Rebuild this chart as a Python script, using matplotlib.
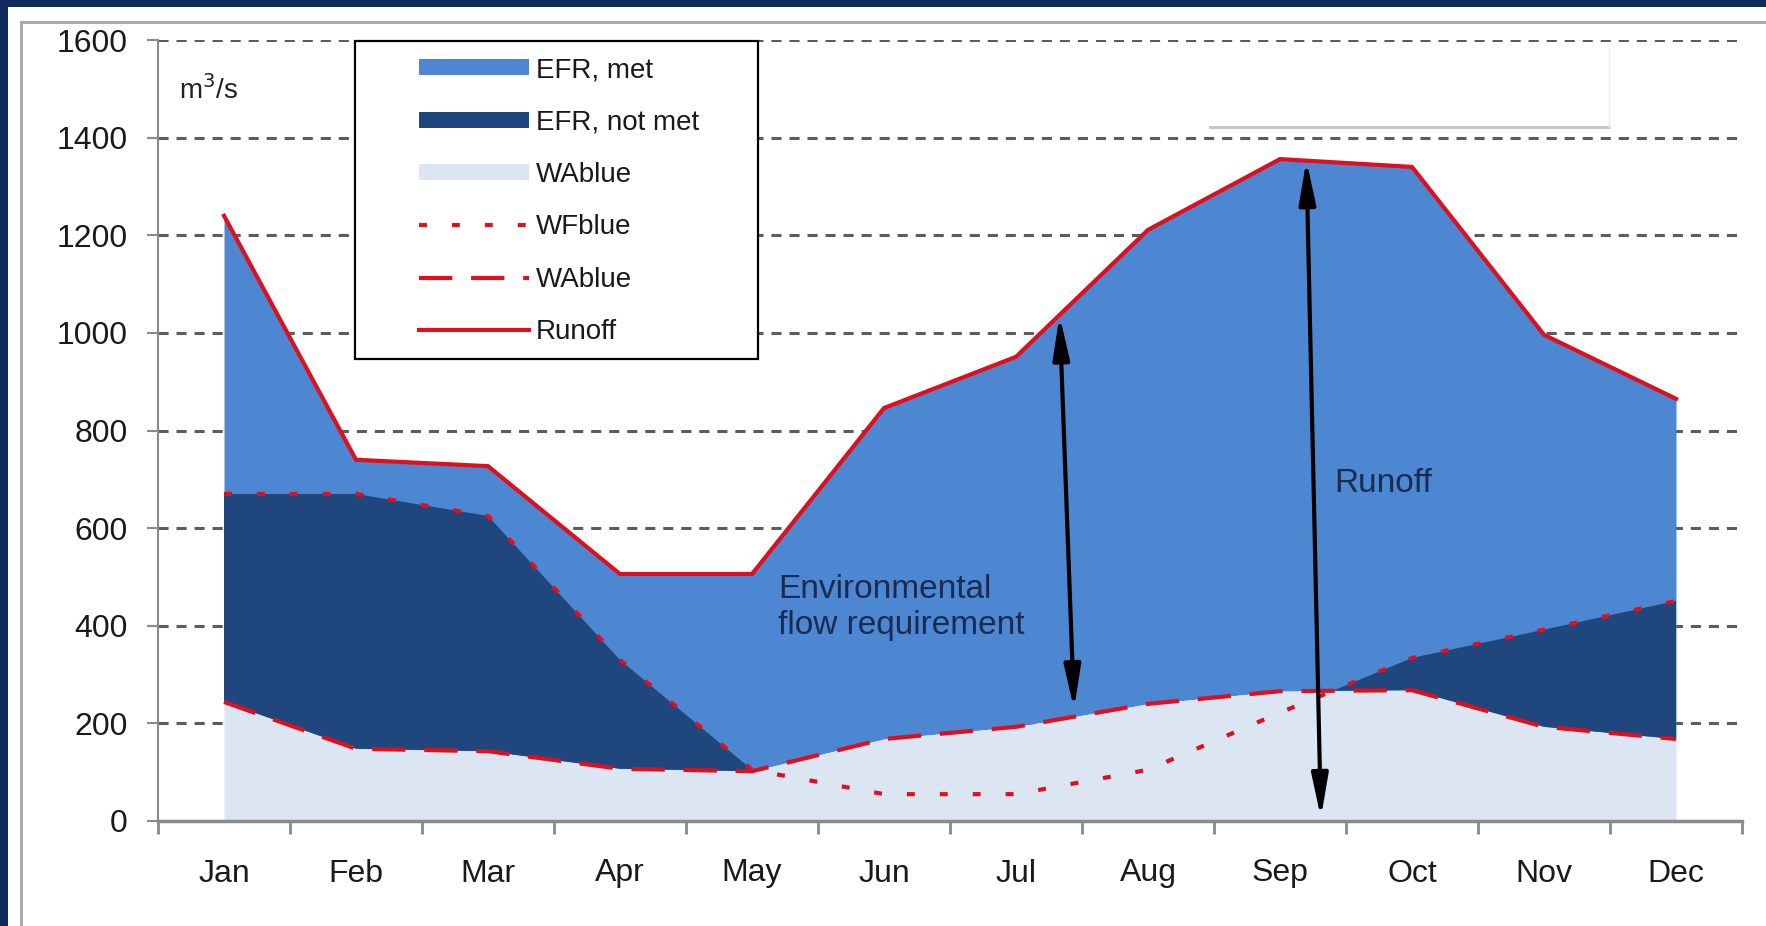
import numpy as np
import matplotlib
matplotlib.use("Agg")
import matplotlib.pyplot as plt
from matplotlib.patches import Patch, Rectangle
from matplotlib.lines import Line2D

plt.rcParams['font.family'] = ['Liberation Sans', 'DejaVu Sans']

# monthly flows, m3/s
months = ['Jan', 'Feb', 'Mar', 'Apr', 'May', 'Jun',
          'Jul', 'Aug', 'Sep', 'Oct', 'Nov', 'Dec']
runoff = [1240, 740, 727, 506, 506, 846, 951, 1211, 1356, 1340, 996, 865]
wa_blue = [244, 148, 143, 107, 102, 168, 193, 240, 266, 268, 193, 168]
wf_blue = [670, 670, 625, 330, 105, 55, 55, 105, 222, 334, 392, 451]

yticks = [0, 200, 400, 600, 800, 1000, 1200, 1400, 1600]

# arrows (month index, value)
efr_arrow = [(6.33, 1036), (6.44, 229)]
runoff_arrow = [(8.20, 1354), (8.31, 6)]

C_MET = '#4d87d1'
C_NOTMET = '#1f477e'
C_WA = '#dce6f2'
C_RED = '#dd1020'
C_NAVY = '#0f2b5c'
C_TEXT = '#1a2b52'

W, H = 1766, 926
fig = plt.figure(figsize=(W / 100, H / 100), dpi=100)
fig.patch.set_facecolor('white')

# axes placed in pixel terms of the reference
x0, x1, y0, y1 = 158, 1742, 821, 40
ax = fig.add_axes([x0 / W, 1 - y0 / H, (x1 - x0) / W, (y0 - y1) / H])

x = np.arange(len(months))
ra = np.array(runoff, dtype=float)
wa = np.array(wa_blue, dtype=float)
wf = np.array(wf_blue, dtype=float)

# EFR met underneath, then EFR not met, then WAblue on top
ax.fill_between(x, wa, ra, color=C_MET, lw=0, zorder=1.9)
ax.fill_between(x, wa, wf, where=wf >= wa, interpolate=True,
                color=C_NOTMET, lw=0, zorder=2.0)
ax.fill_between(x, 0, wa, color=C_WA, lw=0, zorder=2.1)

ax.plot(x, wa, color=C_RED, lw=3, dashes=(8, 4.5), zorder=4)
ax.plot(x, wf, color=C_RED, lw=3, dashes=(1.9, 6), zorder=4)
ax.plot(x, ra, color=C_RED, lw=3, solid_joinstyle='miter', zorder=4)

for arr in (efr_arrow, runoff_arrow):
    ax.annotate('', xy=arr[1], xytext=arr[0],
                arrowprops=dict(arrowstyle='<|-|>,head_length=1.3,head_width=0.25',
                                color='black', lw=3, shrinkA=0, shrinkB=0,
                                mutation_scale=20),
                zorder=6)

ax.text(4.2, 505, 'Environmental\nflow requirement', fontsize=24,
        color=C_TEXT, ha='left', va='top', linespacing=1.2, zorder=6)
ax.text(8.41, 724, 'Runoff', fontsize=24, color=C_TEXT,
        ha='left', va='top', zorder=6)
ax.text(0.013, 0.925, 'm$^3$/s', transform=ax.transAxes, fontsize=20,
        color='#222222', ha='left', va='baseline')

ax.set_xlim(-0.5, len(months) - 0.5)
ax.set_ylim(0, 1600)
ax.set_yticks(yticks)
ax.set_yticklabels([str(v) for v in yticks])
ax.set_xticks(np.arange(-0.5, len(months), 1))
ax.set_xticklabels([''] * (len(months) + 1))
ax.set_xticks(x, minor=True)
ax.set_xticklabels(months, minor=True)
ax.tick_params(axis='x', which='major', length=9, width=2, color='#8a8a8a')
ax.tick_params(axis='x', which='minor', length=0, pad=27, labelsize=23,
               labelcolor='#1a1a1a')
ax.tick_params(axis='y', length=8, width=1.5, color='#8a8a8a', pad=14,
               labelsize=23, labelcolor='#1a1a1a')

ax.yaxis.grid(True, color='#5c5c5c', lw=2.2, dashes=(3.3, 2.6), zorder=0)
ax.set_axisbelow(True)
for s in ('top', 'right'):
    ax.spines[s].set_visible(False)
ax.spines['left'].set_color('#8a8a8a')
ax.spines['left'].set_linewidth(1.5)
ax.spines['bottom'].set_color('#8a8a8a')
ax.spines['bottom'].set_linewidth(2.5)
ax.spines['bottom'].set_zorder(5)

# legend box, drawn by hand, legend entries placed inside it
ax.add_patch(Rectangle((0.1244, 0.5915), 0.2544, 0.4075, transform=ax.transAxes,
                       facecolor='white', edgecolor='black', lw=1.6,
                       zorder=7, clip_on=False))
handles = [
    Patch(facecolor=C_MET, edgecolor='none'),
    Patch(facecolor=C_NOTMET, edgecolor='none'),
    Patch(facecolor=C_WA, edgecolor='none'),
    Line2D([], [], color=C_RED, lw=3, dashes=(1.9, 6)),
    Line2D([], [], color=C_RED, lw=3, dashes=(8, 4.5)),
    Line2D([], [], color=C_RED, lw=3),
]
labels = ['EFR, met', 'EFR, not met', 'WAblue', 'WFblue', 'WAblue', 'Runoff']
leg = ax.legend(handles, labels, loc='upper left',
                bbox_to_anchor=(0.1648, 0.978), frameon=False,
                fontsize=20, handlelength=3.95, handleheight=0.5,
                handletextpad=0.25, labelspacing=0.95, borderpad=0,
                borderaxespad=0)
leg.set_zorder(8)
for t in leg.get_texts():
    t.set_color('#1a1a1a')

# empty white text box at top right, with a faint shadow edge
ax.add_patch(Rectangle((0.663, 0.890), 0.253, 0.1036, transform=ax.transAxes,
                       facecolor='white', edgecolor='none', zorder=7,
                       clip_on=False))
ax.plot([0.664, 0.916], [0.889, 0.889], transform=ax.transAxes,
        color='#c4c4c4', lw=2, zorder=7, clip_on=False)
ax.plot([0.916, 0.916], [0.889, 0.99], transform=ax.transAxes,
        color='#ececec', lw=1, zorder=7, clip_on=False)

# screenshot frame: navy edge and grey chart border
fig.add_artist(Rectangle((0, 1 - 7 / H), 1, 7 / H, transform=fig.transFigure,
                         facecolor=C_NAVY, edgecolor='none'))
fig.add_artist(Rectangle((0, 0), 8 / W, 1, transform=fig.transFigure,
                         facecolor=C_NAVY, edgecolor='none'))
fig.add_artist(Line2D([21 / W, 21 / W], [0, 1 - 22 / H], transform=fig.transFigure,
                      color='#a6a6a6', lw=2))
fig.add_artist(Line2D([21 / W, 1], [1 - 22 / H, 1 - 22 / H], transform=fig.transFigure,
                      color='#a6a6a6', lw=2))

fig.savefig('out.png', dpi=100)
